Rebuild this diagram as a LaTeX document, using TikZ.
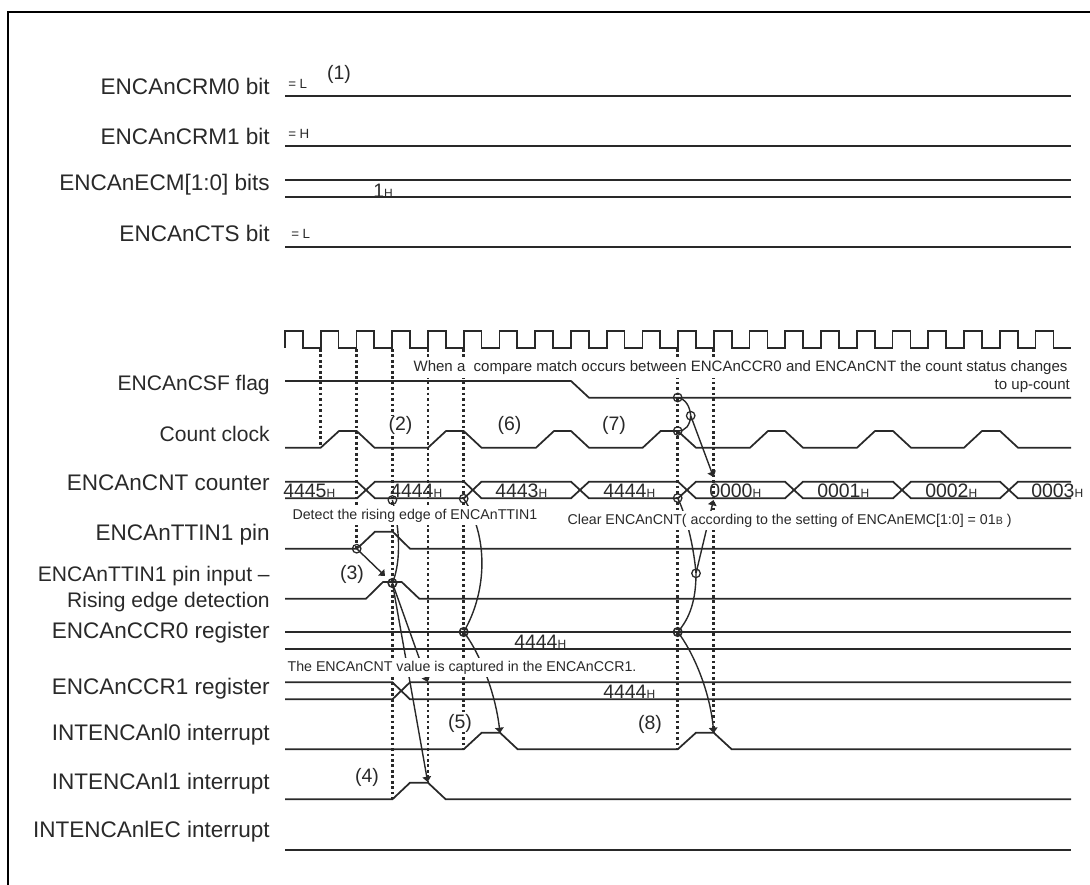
\documentclass[tikz,border=0pt]{standalone}
\usepackage{fontspec}
\setmainfont{Liberation Sans}
\usetikzlibrary{arrows.meta}
\definecolor{ink}{gray}{0.16}
\newcommand{\sbH}{{\fontsize{9}{9}\selectfont H}}
\newcommand{\sbB}{{\fontsize{8}{8}\selectfont B}}
\tikzset{
  sig/.style={line width=1.3pt,draw=ink,line join=miter},
  dots/.style={line width=2.1pt,draw=ink,dash pattern=on 2pt off 2.1pt},
  conn/.style={line width=1.05pt,draw=ink},
  arrowed/.style={conn,-{Triangle[width=6.5pt,length=4pt]}},
  lab/.style={anchor=base east,inner sep=0pt,text=ink,font=\fontsize{16.9}{20}\selectfont},
  labtwo/.style={lab,font=\fontsize{15.8}{19}\selectfont},
  num/.style={anchor=base west,inner sep=0pt,text=ink,font=\fontsize{14.6}{17}\selectfont},
  tag/.style={anchor=center,inner sep=0pt,fill=white,text=ink,font=\fontsize{14.6}{17}\selectfont},
  small/.style={anchor=base west,inner sep=0pt,text=ink,font=\fontsize{10}{12}\selectfont},
  note/.style={anchor=base west,inner xsep=1pt,inner ysep=2.4pt,fill=white,text=ink,font=\fontsize{10.65}{13}\selectfont},
  bignote/.style={note,font=\fontsize{11.27}{13}\selectfont},
  ring/.style={circle,draw=ink,line width=0.95pt,minimum size=6.4pt,inner sep=0pt},
  thick ring/.style={ring,line width=1.2pt},
}
\begin{document}
\begin{tikzpicture}[x=0.75pt,y=-0.75pt]
\useasboundingbox (0,0) rectangle (1090,885);
% frame
\draw[line width=1.6pt,black] (8,885) -- (8,12) -- (1090,12);
% dotted time markers
\foreach \n/\xx/\yy in {a/320.7/447,b/356.7/549,c/392.4/799,d/428/781,e/463.7/749,f/677.7/749,g/713.6/733}
  \draw[dots] (\xx,349) -- (\xx,\yy);
% anchor points of the rings and arrow ends
\path
 (392.4,500) coordinate (pA)
 (463.7,498.7) coordinate (pB)
 (356.7,548.7) coordinate (pC)
 (392.4,583) coordinate (pD)
 (463.7,632) coordinate (pE)
 (677.7,397.5) coordinate (pF)
 (690.7,415.7) coordinate (pG)
 (677.7,431) coordinate (pH)
 (677.7,498) coordinate (pI)
 (696,573.3) coordinate (pJ)
 (677.7,632) coordinate (pK)
 (385,576) coordinate (aD)
 (427.7,682) coordinate (aR)
 (427.7,782) coordinate (aS)
 (500,733) coordinate (aT)
 (713.5,477) coordinate (aU)
 (713.5,500) coordinate (aV)
 (713.7,733) coordinate (aW);
% connectors
\draw[arrowed] (pC) -- (aD);
\draw[conn] (pA) .. controls (399,525) and (402,560) .. (pD);
\draw[conn] (pB) .. controls (488,535) and (488,590) .. (pE);
\draw[arrowed] (pD) -- (aR);
\draw[arrowed] (pD) -- (aS);
\draw[arrowed] (pE) .. controls (478,650) and (495,690) .. (aT);
\draw[conn] (pF) .. controls (686,399) and (690,407) .. (pG);
\draw[conn] (pH) .. controls (686,431) and (690,425) .. (pG);
\draw[arrowed] (pG) -- (aU);
\draw[conn] (pI) .. controls (688,520) and (694,550) .. (pJ);
\draw[conn] (pJ) .. controls (696,600) and (690,618) .. (pK);
\draw[arrowed] (pJ) -- (aV);
\draw[arrowed] (pK) .. controls (692,650) and (710,690) .. (aW);
% notes with white ground
\node[bignote] (n1) at (412,371.7) {When a\ \ compare match occurs between ENCAnCCR0 and ENCAnCNT the count status changes};
\node[bignote,anchor=base east] (n2) at (1071.5,389) {to up-count};
\node[note] (n3) at (291,519) {Detect the rising edge of ENCAnTTIN1};
\node[note] (n4) at (566,524) {Clear ENCAnCNT( according to the setting of ENCAnEMC[1:0] = 01\sbB\ )};
\node[note] (n5) at (286,671) {The ENCAnCNT value is captured in the ENCAnCCR1.};
% static lines
\foreach \yy in {96,146,180,197,247,632,649}
  \draw[sig] (285,\yy) -- (1071,\yy);
\draw[sig,line width=1.6pt] (285,850) -- (1071,850);
% CCR1
\draw[sig] (285,682.3) -- (392.4,682.3) -- (410,699.3) -- (1071,699.3);
\draw[sig] (285,699.3) -- (392.4,699.3) -- (410,682.3) -- (1071,682.3);
% clock
\draw[sig] (285,348) -- (285,331)
  \foreach \k in {0,...,21}{ -- ({285+35.74*\k+17.87},331) -- ({285+35.74*\k+17.87},348) -- ({285+35.74*(\k+1)},348)
    \ifnum\k<21 -- ({285+35.74*(\k+1)},331)\fi };
% CSF flag
\draw[sig] (285,381) -- (571,381) -- (589,397.7) -- (1071,397.7);
% count clock
\draw[sig] (285,447.7) -- (320.7,447.7) -- (339,431) -- (356.7,431) -- (374.5,447.7)
  -- (428,447.7) -- (446,431) -- (463.7,431) -- (481.5,447.7)
  -- (536,447.7) -- (554,431) -- (571,431) -- (589,447.7)
  -- (642.7,447.7) -- (660.7,431) -- (677.7,431) -- (696,447.7)
  -- (750,447.7) -- (768,431) -- (785,431) -- (803,447.7)
  -- (857,447.7) -- (875,431) -- (893,431) -- (911,447.7)
  -- (964,447.7) -- (982,431) -- (1000,431) -- (1018,447.7) -- (1071,447.7);
% counter bus
\draw[sig] (285,481.7) -- (357,481.7) -- (375,498.3) -- (464,498.3) -- (481.5,481.7) -- (571,481.7)
  -- (589,498.3) -- (678,498.3) -- (696,481.7) -- (785,481.7) -- (803,498.3) -- (893,498.3)
  -- (911,481.7) -- (1000,481.7) -- (1018,498.3) -- (1071,498.3);
\draw[sig] (285,498.3) -- (357,498.3) -- (375,481.7) -- (464,481.7) -- (481.5,498.3) -- (571,498.3)
  -- (589,481.7) -- (678,481.7) -- (696,498.3) -- (785,498.3) -- (803,481.7) -- (893,481.7)
  -- (911,498.3) -- (1000,498.3) -- (1018,481.7) -- (1071,481.7);
% TTIN1
\draw[sig] (285,548.7) -- (357,548.7) -- (375,531.7) -- (392.7,531.7) -- (410,548.7) -- (1071,548.7);
% rising edge detection
\draw[sig] (285,598.7) -- (366,598.7) -- (383,582) -- (401.7,582) -- (419.3,598.7) -- (1071,598.7);
% INT0
\draw[sig] (285,749.3) -- (463.7,749.3) -- (481.7,732.7) -- (500,732.7) -- (517.7,749.3)
  -- (677.7,749.3) -- (696,732.7) -- (713.7,732.7) -- (731.7,749.3) -- (1071,749.3);
% INT1
\draw[sig] (285,799.3) -- (392.4,799.3) -- (410,782.7) -- (428,782.7) -- (445.7,799.3) -- (1071,799.3);
% rings
\node[ring] (cA) at (pA) {};
\node[ring] (cB) at (pB) {};
\node[ring] (cC) at (pC) {};
\node[thick ring] (cD) at (pD) {};
\node[thick ring] (cE) at (pE) {};
\node[ring] (cF) at (pF) {};
\node[ring] (cG) at (pG) {};
\node[ring] (cH) at (pH) {};
\node[ring] (cI) at (pI) {};
\node[ring] (cJ) at (pJ) {};
\node[thick ring] (cK) at (pK) {};
% row labels
\node[lab] (l1) at (270,94.5) {ENCAnCRM0 bit};
\node[lab] (l2) at (270,144) {ENCAnCRM1 bit};
\node[lab] (l3) at (270,190) {ENCAnECM[1:0] bits};
\node[lab] (l4) at (270,241.7) {ENCAnCTS bit};
\node[labtwo] (l5) at (270,390) {ENCAnCSF flag};
\node[labtwo] (l6) at (270,441) {Count clock};
\node[lab] (l7) at (270,490.7) {ENCAnCNT counter};
\node[lab] (l8) at (270,540) {ENCAnTTIN1 pin};
\node[labtwo] (l9) at (270,581.7) {ENCAnTTIN1 pin input –};
\node[labtwo] (l10) at (270,607) {Rising edge detection};
\node[lab] (l11) at (270,638) {ENCAnCCR0 register};
\node[lab] (l12) at (270,694) {ENCAnCCR1 register};
\node[lab] (l13) at (270,740.7) {INTENCAnl0 interrupt};
\node[lab] (l14) at (270,789) {INTENCAnl1 interrupt};
\node[lab] (l15) at (270,837) {INTENCAnlEC interrupt};
% small values
\node[small] (s1) at (288,88) {= L};
\node[small] (s2) at (288,138) {= H};
\node[small] (s3) at (291,238) {= L};
\node[num] (v1) at (373,197) {1\sbH};
% bus values
\node[num] (v2) at (283,497) {4445\sbH};
\node[num] (v3) at (390,497) {4444\sbH};
\node[num] (v4) at (495,497) {4443\sbH};
\node[num] (v5) at (603,497) {4444\sbH};
\node[num] (v6) at (709,497) {0000\sbH};
\node[num] (v7) at (817,497) {0001\sbH};
\node[num] (v8) at (925,497) {0002\sbH};
\node[num] (v9) at (1031,497) {0003\sbH};
\node[num] (v10) at (514,648) {4444\sbH};
\node[num] (v11) at (603,698) {4444\sbH};
% step tags
\node[tag] (t1) at (339,74) {(1)};
\node[tag] (t2) at (400.5,425.5) {(2)};
\node[tag] (t3) at (352,574) {(3)};
\node[tag] (t4) at (367,777) {(4)};
\node[tag] (t5) at (460,723) {(5)};
\node[tag] (t6) at (509.5,425) {(6)};
\node[tag] (t7) at (614,425) {(7)};
\node[tag] (t8) at (650,724) {(8)};
\end{tikzpicture}
\end{document}
